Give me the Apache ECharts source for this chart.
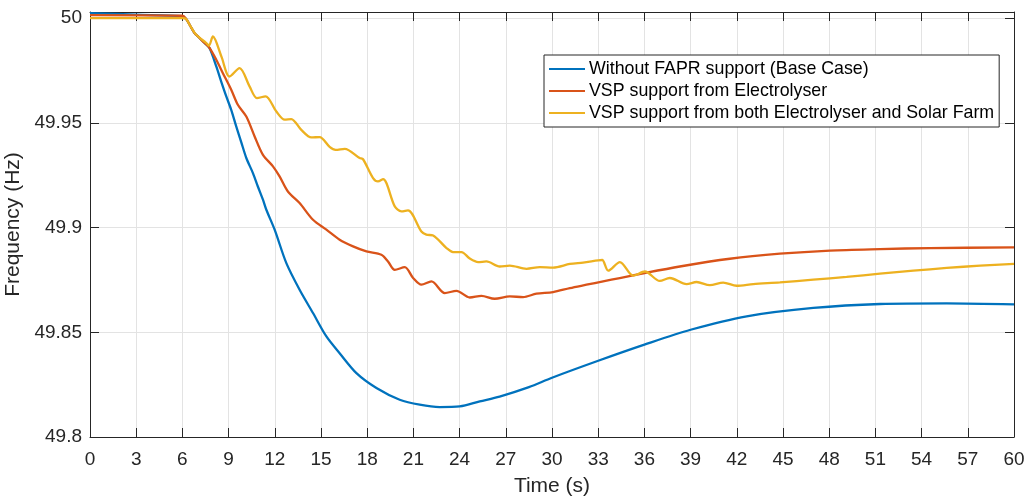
<!DOCTYPE html>
<html>
<head>
<meta charset="utf-8">
<script src="https://cdn.jsdelivr.net/npm/echarts@6/dist/echarts.min.js"></script>
<style>
  html, body { margin: 0; padding: 0; background: #fff; }
  #chart { width: 1025px; height: 498px; }
</style>
</head>
<body>
<div id="chart"></div>
<script>
// Frequency response after the disturbance at t = 6 s
const seriesNames = [
  'Without FAPR support (Base Case)',
  'VSP support from Electrolyser',
  'VSP support from both Electrolyser and Solar Farm'
];

const timeBase = [0, 3, 6, 6.25, 6.47, 6.79, 7.11, 7.44, 7.76, 8.2, 8.52, 8.85, 9.17, 9.5, 9.82, 10.15, 10.58, 10.9, 11.23, 11.45, 11.99, 12.75, 13.61, 14.48, 15.35, 16.21, 17.3, 18.6, 20.11, 21.41, 22.71, 24.01, 25.31, 26.6, 28.5, 30, 33, 36, 39, 42.64, 46.97, 51.3, 55.63, 60];
const freqBase = [50.0024, 50.0016, 50.0009, 49.9995, 49.9968, 49.9928, 49.9905, 49.9881, 49.9857, 49.9769, 49.9697, 49.9626, 49.9562, 49.9482, 49.9408, 49.9332, 49.926, 49.9196, 49.9133, 49.9085, 49.899, 49.883, 49.8703, 49.8592, 49.848, 49.84, 49.8305, 49.8234, 49.8178, 49.8154, 49.8143, 49.8146, 49.817, 49.8193, 49.8238, 49.8283, 49.8364, 49.8441, 49.8512, 49.8576, 49.8616, 49.8635, 49.8638, 49.8633];

const timeElec = [0, 6, 6.25, 6.47, 6.79, 7.11, 7.44, 7.72, 8.2, 8.63, 9.17, 9.6, 10.15, 10.69, 11.23, 11.88, 12.31, 12.85, 13.61, 14.48, 15.35, 16.21, 17.08, 17.95, 18.92, 19.35, 19.79, 20.44, 20.98, 21.52, 22.17, 23.04, 23.8, 24.66, 25.42, 26.28, 27.26, 28.12, 28.99, 30.07, 31.16, 32.24, 33.32, 34.4, 35.49, 38.3, 41.55, 44.8, 48.05, 51.3, 54.55, 60];
const freqElec = [50.0014, 50.0011, 49.9995, 49.9968, 49.9928, 49.9905, 49.9881, 49.9862, 49.9801, 49.9737, 49.9658, 49.9586, 49.953, 49.9435, 49.9347, 49.9292, 49.9244, 49.9172, 49.9117, 49.9037, 49.899, 49.8942, 49.891, 49.8886, 49.887, 49.8838, 49.8798, 49.8811, 49.8759, 49.8727, 49.8743, 49.8687, 49.8698, 49.8666, 49.8674, 49.866, 49.8671, 49.8668, 49.8684, 49.8692, 49.8711, 49.8727, 49.8743, 49.8759, 49.8775, 49.8814, 49.8851, 49.8875, 49.889, 49.8897, 49.8902, 49.8905];

const timeBoth = [0, 6, 6.25, 6.47, 6.9, 7.55, 7.72, 7.98, 8.53, 9.06, 9.71, 10.36, 10.84, 11.4, 12.1, 12.64, 13.07, 13.72, 14.37, 14.91, 15.56, 15.95, 16.54, 17.51, 17.73, 18.38, 18.7, 19.03, 19.79, 20.22, 20.65, 21.52, 21.84, 22.28, 23.15, 23.57, 24.12, 24.66, 25.2, 25.74, 26.61, 27.26, 28.34, 29.21, 30.07, 31.16, 32.02, 33.0, 33.26, 33.65, 34.41, 35.27, 36.03, 37.0, 37.65, 38.74, 39.39, 40.25, 41.12, 41.99, 43.07, 44.8, 46.97, 49.13, 51.3, 53.46, 55.63, 57.8, 60];
const freqBoth = [50.0, 50.0, 49.9995, 49.9968, 49.992, 49.9881, 49.9868, 49.9912, 49.9817, 49.9721, 49.9761, 49.9674, 49.9618, 49.9626, 49.9554, 49.9515, 49.9518, 49.9466, 49.943, 49.9432, 49.9385, 49.9371, 49.9376, 49.9332, 49.9326, 49.9236, 49.922, 49.9231, 49.9101, 49.9077, 49.9082, 49.8981, 49.8966, 49.8962, 49.8902, 49.8883, 49.8883, 49.8852, 49.8835, 49.8838, 49.8814, 49.8818, 49.8803, 49.8811, 49.8809, 49.8826, 49.8833, 49.8843, 49.8845, 49.8794, 49.8835, 49.877, 49.879, 49.8745, 49.8759, 49.873, 49.874, 49.8725, 49.8737, 49.8722, 49.873, 49.8738, 49.8751, 49.8764, 49.878, 49.8794, 49.8807, 49.8818, 49.8827];

const lineColors = ['#0072BD', '#D95319', '#EDB120'];

const xTicks = { min: 0, max: 60, interval: 3 };
const yTicks = { min: 49.8, max: 50.0029, interval: 0.05 };

const pairs = (ts, vs) => ts.map((t, i) => [t, vs[i]]);

const axisColor = '#262626';
const gridColor = '#e3e3e3';
const fontFamily = '"Liberation Sans", Arial, Helvetica, sans-serif';

// Box axes on the top and right edges: ticks only
const frameAxis = (position, isX) => ({
  type: 'value',
  position: position,
  min: isX ? xTicks.min : yTicks.min,
  max: isX ? xTicks.max : yTicks.max,
  interval: isX ? xTicks.interval : yTicks.interval,
  axisLine: { show: true, onZero: false, lineStyle: { color: axisColor, width: 1 } },
  axisTick: { show: true, inside: true, length: 9, lineStyle: { color: axisColor } },
  axisLabel: { show: false },
  splitLine: { show: false }
});

const chart = echarts.init(document.getElementById('chart'), null, { renderer: 'canvas' });

chart.setOption({
  animation: false,
  backgroundColor: '#ffffff',
  textStyle: { fontFamily: fontFamily },
  grid: { left: 90, right: 11, top: 12, bottom: 61, containLabel: false, outerBoundsMode: 'none' },
  legend: {
    orient: 'vertical',
    left: 544,
    top: 55,
    padding: [5, 5, 5, 5],
    itemGap: 4,
    itemWidth: 36,
    itemHeight: 2,
    icon: 'rect',
    backgroundColor: '#ffffff',
    borderColor: axisColor,
    borderWidth: 1,
    borderRadius: 0,
    textStyle: { fontSize: 17.8, lineHeight: 18, color: '#000', fontFamily: fontFamily, padding: [0, 0, 0, -1] },
    data: seriesNames
  },
  xAxis: [
    {
      type: 'value',
      min: xTicks.min,
      max: xTicks.max,
      interval: xTicks.interval,
      name: 'Time (s)',
      nameLocation: 'middle',
      nameGap: 39,
      nameTextStyle: { fontSize: 21, color: axisColor, fontFamily: fontFamily },
      axisLine: { show: true, onZero: false, lineStyle: { color: axisColor, width: 1 } },
      axisTick: { show: true, inside: true, length: 9, lineStyle: { color: axisColor } },
      axisLabel: { fontSize: 19, color: axisColor, margin: 13, fontFamily: fontFamily },
      splitLine: { show: true, lineStyle: { color: gridColor, width: 1 } }
    },
    frameAxis('top', true)
  ],
  yAxis: [
    {
      type: 'value',
      min: yTicks.min,
      max: yTicks.max,
      interval: yTicks.interval,
      name: 'Frequency (Hz)',
      nameLocation: 'middle',
      nameGap: 54,
      nameTextStyle: { fontSize: 21, color: axisColor, fontFamily: fontFamily },
      axisLine: { show: true, onZero: false, lineStyle: { color: axisColor, width: 1 } },
      axisTick: { show: true, inside: true, length: 9, lineStyle: { color: axisColor } },
      axisLabel: {
        fontSize: 19,
        color: axisColor,
        margin: 8,
        fontFamily: fontFamily,
        showMaxLabel: false,
        formatter: v => String(Number(v.toFixed(2)))
      },
      splitLine: { show: true, lineStyle: { color: gridColor, width: 1 } }
    },
    frameAxis('right', false)
  ],
  series: [
    { name: seriesNames[0], data: pairs(timeBase, freqBase), color: lineColors[0] },
    { name: seriesNames[1], data: pairs(timeElec, freqElec), color: lineColors[1] },
    { name: seriesNames[2], data: pairs(timeBoth, freqBoth), color: lineColors[2] }
  ].map(s => ({
    type: 'line',
    name: s.name,
    data: s.data,
    xAxisIndex: 0,
    yAxisIndex: 0,
    symbol: 'none',
    smooth: 0.3,
    color: s.color,
    lineStyle: { width: 2.3, color: s.color },
    emphasis: { disabled: true }
  }))
});
</script>
</body>
</html>
